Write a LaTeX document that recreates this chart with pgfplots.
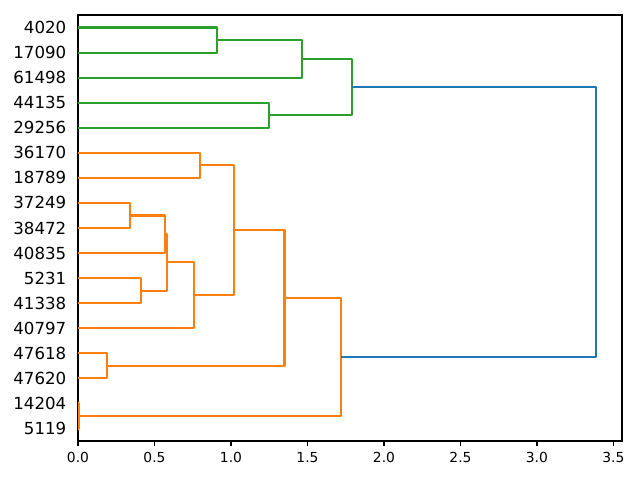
\documentclass[border=0pt]{standalone}
\usepackage{pgfplots}
\pgfplotsset{compat=1.18}
\usepackage{fontspec}
\setmainfont{DejaVu Sans}
\definecolor{c0}{HTML}{1F77B4}
\definecolor{c1}{HTML}{FF7F0E}
\definecolor{c2}{HTML}{2CA02C}
\begin{document}
\begin{tikzpicture}
\path[use as bounding box] (-0.78in,-0.39in) rectangle (5.62in,4.41in);
\begin{axis}[
  at={(0,0)}, anchor=south west,
  scale only axis, width=5.44in, height=4.26in,
  xmin=0, xmax=3.556, ymin=0, ymax=170,
  axis line style={line width=0.8bp},
  xtick={0,0.5,1,1.5,2,2.5,3,3.5},
  xticklabel style={font=\fontsize{10}{12}\selectfont, yshift=-3.5pt, /pgf/number format/.cd, fixed, fixed zerofill, precision=1},
  /pgf/number format/assume math mode=true,
  ytick={5,15,25,35,45,55,65,75,85,95,105,115,125,135,145,155,165},
  yticklabels={5119,14204,47620,47618,40797,41338,5231,40835,38472,37249,18789,36170,29256,44135,61498,17090,4020},
  yticklabel style={font=\fontsize{12}{14}\selectfont, xshift=-3.8pt},
  xtick pos=bottom, ytick pos=left,
  tick align=outside,
  major tick length=3.5bp,
  x tick style={line width=0.8bp, black},
  y tick style={draw=none},
  every tick label/.append style={inner sep=1pt},
  clip=false,
]
\pgfplotsset{every axis plot/.append style={line width=1.5bp, line join=round}}
% orange
\addplot[c1] coordinates {(0,5)(0.005,5)(0.005,15)(0,15)};
\addplot[c1] coordinates {(0,25)(0.19,25)(0.19,35)(0,35)};
\addplot[c1] coordinates {(0,55)(0.412,55)(0.412,65)(0,65)};
\addplot[c1] coordinates {(0,85)(0.338,85)(0.338,95)(0,95)};
\addplot[c1] coordinates {(0,75)(0.571,75)(0.571,90)(0.338,90)};
\addplot[c1] coordinates {(0.412,60)(0.584,60)(0.584,82.5)(0.571,82.5)};
\addplot[c1] coordinates {(0,45)(0.758,45)(0.758,71.25)(0.584,71.25)};
\addplot[c1] coordinates {(0,105)(0.80,105)(0.80,115)(0,115)};
\addplot[c1] coordinates {(0.758,58.125)(1.02,58.125)(1.02,110)(0.80,110)};
\addplot[c1] coordinates {(0.19,30)(1.35,30)(1.35,84.0625)(1.02,84.0625)};
\addplot[c1] coordinates {(0.005,10)(1.72,10)(1.72,57.03125)(1.35,57.03125)};
% green
\addplot[c2] coordinates {(0,125)(1.248,125)(1.248,135)(0,135)};
\addplot[c2] coordinates {(0,155)(0.906,155)(0.906,165)(0,165)};
\addplot[c2] coordinates {(0,145)(1.464,145)(1.464,160)(0.906,160)};
\addplot[c2] coordinates {(1.248,130)(1.79,130)(1.79,152.5)(1.464,152.5)};
% blue
\addplot[c0] coordinates {(1.72,33.515625)(3.386,33.515625)(3.386,141.25)(1.79,141.25)};
\end{axis}
\end{tikzpicture}
\end{document}
